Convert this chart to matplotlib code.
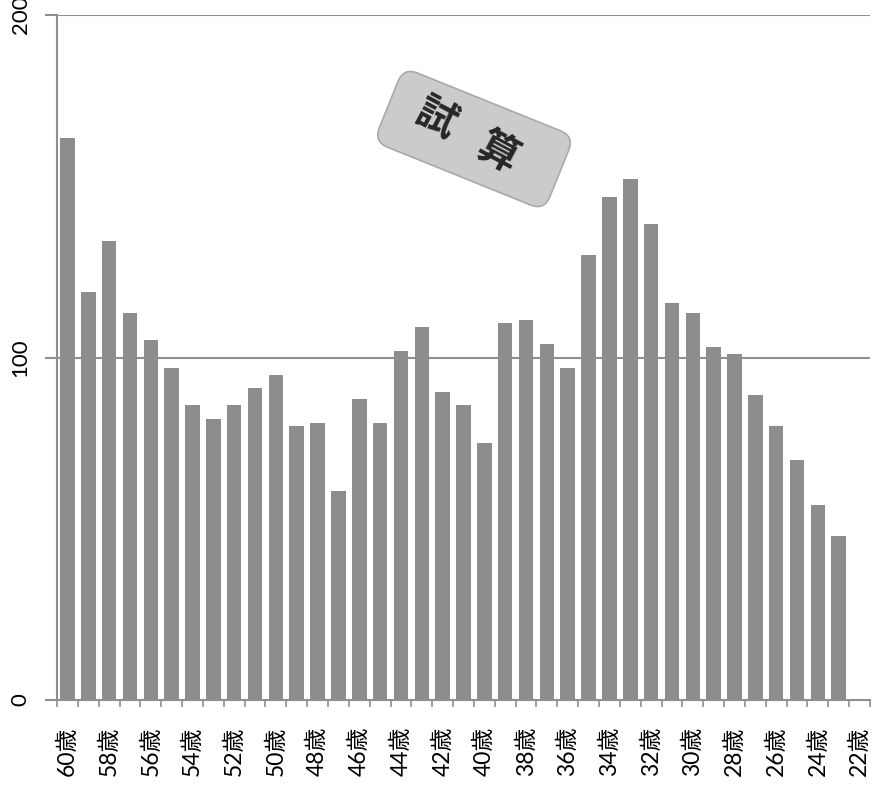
import numpy as np
import matplotlib.pyplot as plt
from matplotlib.patches import FancyBboxPatch
from matplotlib.transforms import Affine2D

plt.rcParams['font.family'] = ['Lato', 'Noto Sans CJK JP', 'DejaVu Sans']

ages = list(range(60, 21, -1))
counts = [164, 119, 134, 113, 105, 97, 86, 82, 86, 91, 95, 80, 81,
          61, 88, 81, 102, 109, 90, 86, 75, 110, 111, 104, 97, 130,
          147, 152, 139, 116, 113, 103, 101, 89, 80, 70, 57, 48, 0]
labels = ['{}歳'.format(a) for a in ages]
y_ticks = [0, 100, 200]
stamp_chars = ['試', '算']

gray = '#8f8f8f'
W, H = 873, 795

fig = plt.figure(figsize=(8.73, 7.95), dpi=100)
ax = fig.add_axes([57 / W, 95 / H, 813 / W, 685 / H])

x = np.arange(len(ages))
ax.bar(x, counts, width=0.7, color='#8d8d8d', zorder=2)

ax.set_xlim(-0.5, len(ages) - 0.5)
ax.set_ylim(0, 200)

for v in y_ticks[1:]:
    ax.axhline(v, color=gray, lw=1.5, zorder=1)
ax.set_yticks(y_ticks)
ax.set_yticklabels([str(v) for v in y_ticks], rotation=90, va='center', fontsize=16)
ax.tick_params(axis='y', length=9, width=1.5, color=gray, pad=10)

# boundary ticks (no labels), labels on every other category
ax.set_xticks(np.arange(len(ages) + 1) - 0.5)
ax.set_xticklabels([])
ax.tick_params(axis='x', which='major', length=5, width=1.2, color=gray)
ax.set_xticks(x[::2], minor=True)
ax.set_xticklabels(labels[::2], minor=True, rotation=90, fontsize=16.5)
ax.tick_params(axis='x', which='minor', length=0, pad=19)

for s in ['top', 'right']:
    ax.spines[s].set_visible(False)
for s in ['left', 'bottom']:
    ax.spines[s].set_color(gray)
    ax.spines[s].set_linewidth(1.5)

# "試算" stamp: rotated rounded box, in pixel units
rot = Affine2D().rotate_deg(-22).translate(474, H - 139)
box = FancyBboxPatch((-92, -40), 184, 80, boxstyle='round,pad=0,rounding_size=15',
                     fc='#cbcbcb', ec='#a9a9a9', lw=1.2, transform=rot, zorder=5)
fig.add_artist(box)
for ch, (cx, cy) in zip(stamp_chars, [(436, 119), (497, 153)]):
    fig.text(cx / W, 1 - cy / H, ch, rotation=-28, ha='center', va='center',
             fontsize=29, fontweight='bold', color='#262626',
             family=['Noto Sans CJK JP'], rotation_mode='anchor', zorder=6)

fig.savefig('out.png', dpi=100, facecolor='white')
